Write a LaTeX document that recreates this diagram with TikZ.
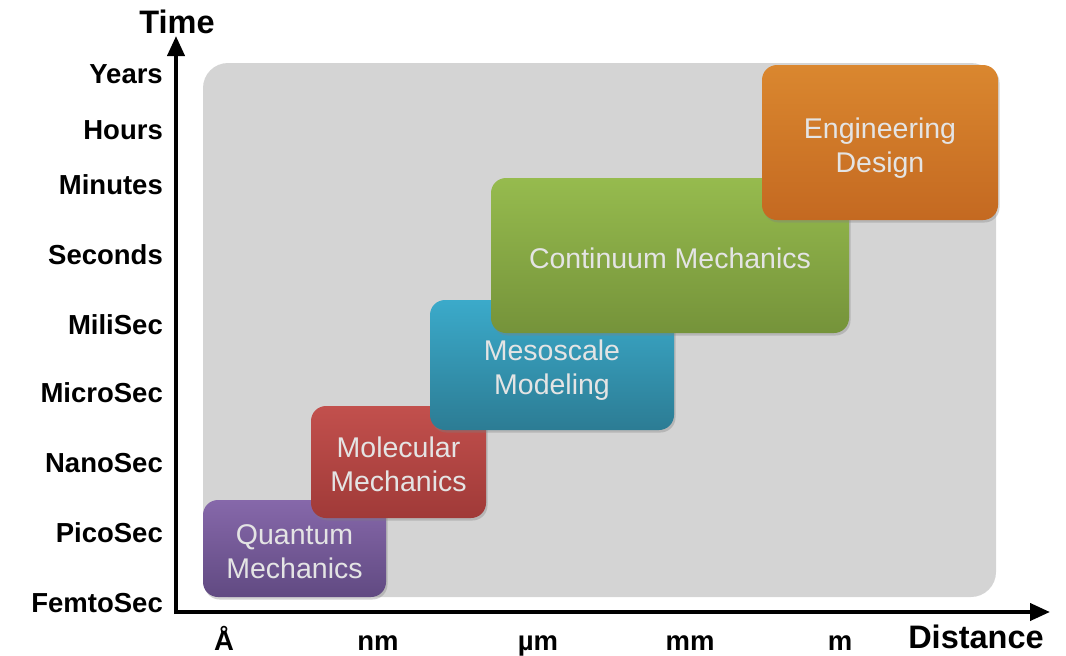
\documentclass[tikz,border=0pt]{standalone}
\usepackage{fontspec}
\setmainfont{Liberation Sans}
\usetikzlibrary{arrows.meta,shadows}
\definecolor{bggrey}{HTML}{D4D4D4}
\definecolor{txtgrey}{HTML}{E4E4E4}
\definecolor{purpT}{HTML}{8668AA}
\definecolor{purpB}{HTML}{614A82}
\definecolor{redT}{HTML}{C2504D}
\definecolor{redB}{HTML}{A03A38}
\definecolor{blueT}{HTML}{3BAACA}
\definecolor{blueB}{HTML}{2C7C94}
\definecolor{greenT}{HTML}{96BB4E}
\definecolor{greenB}{HTML}{75933A}
\definecolor{orangeT}{HTML}{DA872F}
\definecolor{orangeB}{HTML}{C46921}
\newcommand\mytopstrut{\rule{0pt}{32pt}}
\newcommand\mybotstrut{\rule[-6.2pt]{0pt}{6.2pt}}
\tikzset{
  scalebox/.style n args={4}{rectangle, rounded corners=15pt, minimum width=#1, minimum height=#2,
    top color=#3, bottom color=#4, draw=none, inner sep=0pt,
    drop shadow={opacity=0.35, shadow xshift=1.5pt, shadow yshift=-2.5pt},
    text=txtgrey, align=center, font=\fontsize{28.5}{34}\selectfont},
  ticklab/.style={font=\bfseries\fontsize{27.5}{32}\selectfont, inner sep=0pt, text=black},
  axislab/.style={font=\bfseries\fontsize{32.5}{38}\selectfont, inner sep=0pt, text=black},
  axisline/.style={line width=4pt, -{Triangle[length=20pt,width=17pt]}},
}
\begin{document}
\begin{tikzpicture}[x=1pt,y=-1pt]
\useasboundingbox (0,0) rectangle (1066,656);
% background panel
\fill[bggrey, rounded corners=25pt] (203,63) rectangle (996,597);
% boxes
\node[scalebox={183pt}{97pt}{purpT}{purpB}] (qm) at (294.5,548.5) {\mytopstrut Quantum\\Mechanics\mybotstrut};
\node[scalebox={175pt}{112pt}{redT}{redB}] (mm) at (398.5,462) {\mytopstrut Molecular\\Mechanics\mybotstrut};
\node[scalebox={244pt}{130pt}{blueT}{blueB}] (ms) at (552,365) {\mytopstrut Mesoscale\\Modeling\mybotstrut};
\node[scalebox={358pt}{155pt}{greenT}{greenB}] (cm) at (670,255.5) {\mytopstrut Continuum Mechanics\mybotstrut};
\node[scalebox={236pt}{155pt}{orangeT}{orangeB}] (ed) at (880,142.5) {\mytopstrut Engineering\\Design\mybotstrut};
% axes
\coordinate (O) at (176,614);
\coordinate (ytip) at (176,36);
\coordinate (xtip) at (1050,612);
\draw[axisline] (176,614) -- (ytip);
\draw[axisline] (174,612) -- (xtip);
\node[axislab] (time) at (177,22) {Time};
\node[axislab, anchor=base] (dist) at (976,648) {Distance};
% time labels
\node[ticklab, anchor=east] (t1) at (163,74) {Years};
\node[ticklab, anchor=east] (t2) at (163,130) {Hours};
\node[ticklab, anchor=east] (t3) at (163,185) {Minutes};
\node[ticklab, anchor=east] (t4) at (163,255) {Seconds};
\node[ticklab, anchor=east] (t5) at (163,325) {MiliSec};
\node[ticklab, anchor=east] (t6) at (163,393) {MicroSec};
\node[ticklab, anchor=east] (t7) at (163,463) {NanoSec};
\node[ticklab, anchor=east] (t8) at (163,533) {PicoSec};
\node[ticklab, anchor=east] (t9) at (163,603) {FemtoSec};
% distance labels
\node[ticklab, anchor=base] (d1) at (224,650) {Å};
\node[ticklab, anchor=base] (d2) at (378,650) {nm};
\node[ticklab, anchor=base] (d3) at (538,650) {µm};
\node[ticklab, anchor=base] (d4) at (690,650) {mm};
\node[ticklab, anchor=base] (d5) at (840,650) {m};
\end{tikzpicture}
\end{document}
